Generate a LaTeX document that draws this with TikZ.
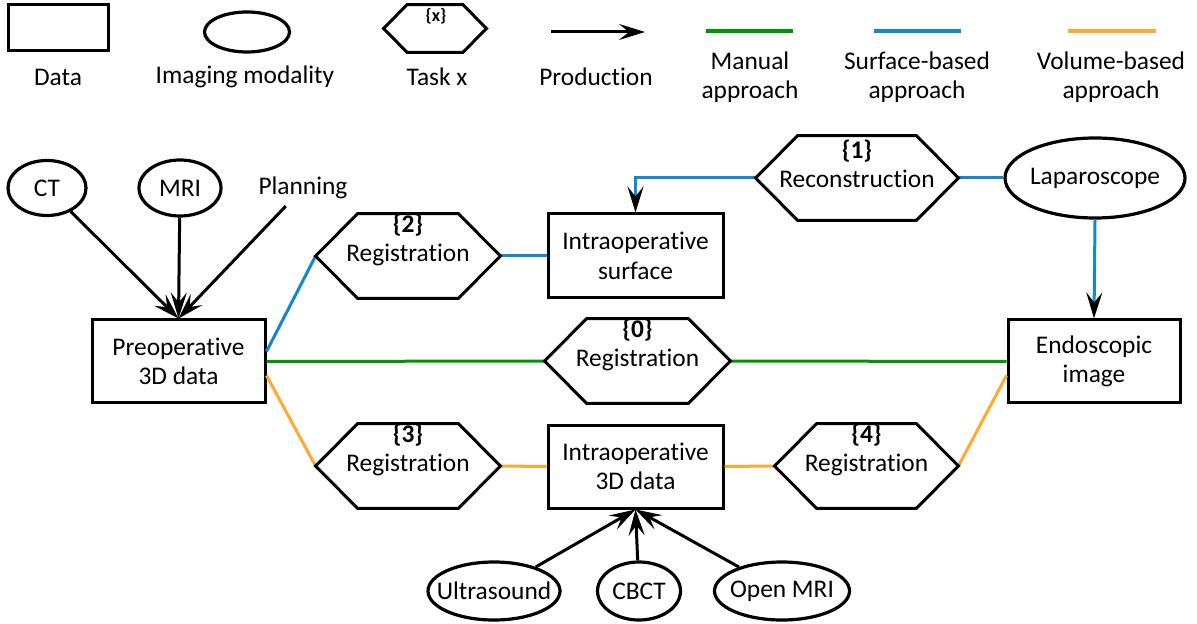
\documentclass[tikz,border=0pt]{standalone}
\usepackage{fontspec}
\setmainfont{Carlito}[Ligatures={NoCommon}]
\usetikzlibrary{arrows.meta,shapes.geometric,calc}
\definecolor{mgreen}{RGB}{0,150,0}
\definecolor{mblue}{RGB}{20,135,205}
\definecolor{morange}{RGB}{255,168,50}
\newcommand\hexpath[2]{\draw[line width=1.5pt,line join=miter] (#1.west) -- ($(#1.north west)+(#2,0)$) -- ($(#1.north east)+(-#2,0)$) -- (#1.east) -- ($(#1.south east)+(-#2,0)$) -- ($(#1.south west)+(#2,0)$) -- cycle;}
\newcommand\ztext[1]{\makebox[0pt]{#1}}
\begin{document}
\begin{tikzpicture}[x=0.5pt,y=-0.5pt,
  every node/.style={font=\fontsize{12.7}{14.7}\selectfont, align=center},
  box/.style={draw, line width=1.5pt, inner sep=0pt},
  ell/.style={draw, ellipse, line width=1.6pt, inner sep=0pt},
  hexbox/.style={draw=none, rectangle, inner sep=0pt, minimum height=42pt},
  tip/.style={-{Stealth[length=13pt,width=8pt,inset=5pt,black]}},
  arr/.style={line width=1.5pt, tip},
  bl/.style={draw=mblue, line width=1.5pt},
  gr/.style={draw=mgreen, line width=1.5pt},
  orl/.style={draw=morange, line width=1.5pt}]
\useasboundingbox (0,0) rectangle (1197,624);
% legend
\node[box, minimum width=50pt, minimum height=23pt] (lgdata) at (58,28) {};
\node (lgdatat) at (58,77) {Data};
\node[ell, minimum width=42.5pt, minimum height=20pt] (lgell) at (247,32) {};
\node (lgellt) at (245,77) {Imaging modality};
\node[hexbox, minimum width=51pt, minimum height=23.5pt] (lghex) at (435,28.5) {};
\hexpath{lghex}{23.5}
\node[font=\fontsize{9}{10}\selectfont\bfseries] (lghexn) at (436,16) {\{x\}};
\node (lghext) at (437,77) {Task x};
\coordinate (lgarra) at (551,32);
\coordinate (lgarrb) at (645,32);
\draw[arr] (lgarra) -- (lgarrb);
\node (lgprod) at (596,77) {Production};
\coordinate (lgga) at (706,31);
\coordinate (lggb) at (793,31);
\draw[gr, line width=1.8pt] (lgga) -- (lggb);
\node (lggt) at (750,77) {Manual\\approach};
\coordinate (lgba) at (874,31);
\coordinate (lgbb) at (961,31);
\draw[bl, line width=1.8pt] (lgba) -- (lgbb);
\node (lgbt) at (917,77) {Surface-based\\approach};
\coordinate (lgoa) at (1068,31);
\coordinate (lgob) at (1156,31);
\draw[orl, line width=1.8pt] (lgoa) -- (lgob);
\node (lgot) at (1111,77) {Volume-based\\approach};
% main nodes
\node[ell, minimum width=39pt, minimum height=27.5pt] (ct) at (47,188) {\ztext{CT}};
\node[ell, minimum width=41pt, minimum height=28pt] (mri) at (180,188) {\ztext{MRI}};
\node (plan) at (303,188) {Planning};
\node[box, minimum width=86.5pt, minimum height=41.5pt] (preop) at (178.5,361.5) {Preoperative\\3D data};
\node[hexbox, minimum width=92pt] (h2) at (408,256) {};
\node (h2t) at ($(h2)+(0,-16)$) {\textbf{\{2\}}\\Registration};
\node[box, minimum width=87.5pt, minimum height=42pt] (surf) at (635.5,256) {Intraoperative\\surface};
\node[hexbox, minimum width=101pt] (h1) at (857,178) {};
\node (h1t) at ($(h1)+(0,-14)$) {\textbf{\{1\}}\\Reconstruction};
\node[ell, minimum width=90pt, minimum height=40pt] (lap) at (1095,178) {\ztext{Laparoscope}};
\node[box, minimum width=86pt, minimum height=41.5pt] (endo) at (1094,361.5) {Endoscopic\\image};
\node[hexbox, minimum width=92.5pt] (h0) at (637.5,361) {};
\node (h0t) at ($(h0)+(0,-16)$) {\textbf{\{0\}}\\Registration};
\node[hexbox, minimum width=92pt] (h3) at (408,466) {};
\node (h3t) at ($(h3)+(0,-16)$) {\textbf{\{3\}}\\Registration};
\node[box, minimum width=87.5pt, minimum height=41.5pt] (iod) at (635.5,466.5) {Intraoperative\\3D data};
\node[hexbox, minimum width=91.5pt] (h4) at (866.5,466) {};
\node (h4t) at ($(h4)+(0,-16)$) {\textbf{\{4\}}\\Registration};
\node[ell, minimum width=66pt, minimum height=29pt] (us) at (494,591) {\ztext{Ultrasound}};
\node[ell, minimum width=41.5pt, minimum height=29pt] (cbct) at (639,591) {\ztext{CBCT}};
\node[ell, minimum width=67.5pt, minimum height=29pt] (omri) at (782,591) {\ztext{Open MRI}};
% connectors
\draw[bl] ([yshift=5pt]preop.east) -- (h2.west);
\draw[bl] (h2.east) -- (surf.west);
\draw[bl] (lap.west) -- (h1.east);
\draw[bl, tip] (h1.west) -| (surf.north);
\draw[bl, tip] (lap.south) -- (endo.north);
\draw[gr] (preop.east) -- (h0.west);
\draw[gr] (h0.east) -- (endo.west);
\draw[orl] ([yshift=-7pt]preop.east) -- (h3.west);
\draw[orl] (h3.east) -- (iod.west);
\draw[orl] (iod.east) -- (h4.west);
\draw[orl] (h4.east) -- ([yshift=-7pt]endo.west);
\draw[arr] (ct) -- (preop.north);
\draw[arr] (mri) -- (preop.north);
\draw[arr] (plan) -- (preop.north);
\draw[arr] (us) -- (iod.south);
\draw[arr] (cbct) -- (iod.south);
\draw[arr] (omri) -- (iod.south);
\hexpath{h0}{42}
\hexpath{h1}{42}
\hexpath{h2}{42}
\hexpath{h3}{42}
\hexpath{h4}{42}
\end{tikzpicture}
\end{document}
